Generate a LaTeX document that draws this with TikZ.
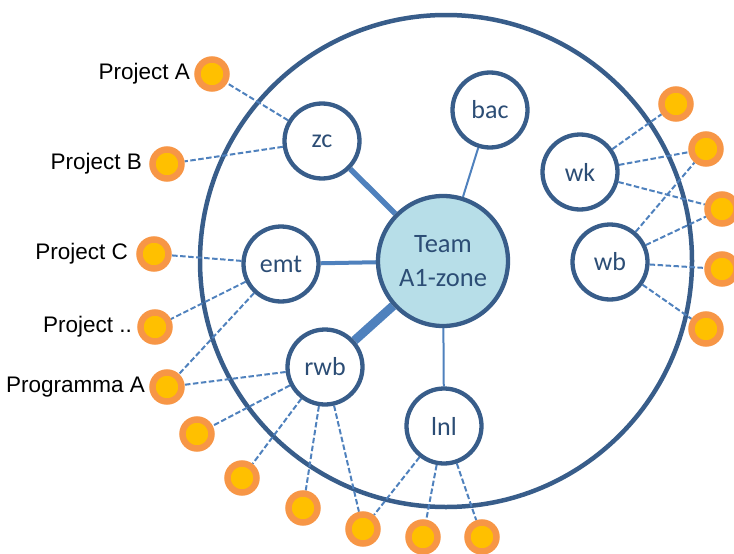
\documentclass[tikz,border=0pt]{standalone}
\usepackage{fontspec}
\setmainfont{Liberation Sans}
\newfontfamily\nodefont{Carlito}
\usetikzlibrary{backgrounds}
\definecolor{ringblue}{HTML}{385D8A}
\definecolor{linkblue}{HTML}{4F81BD}
\definecolor{teamfill}{HTML}{B7DEE8}
\definecolor{txtblue}{HTML}{2C4D75}
\definecolor{dotfill}{HTML}{FFC000}
\definecolor{dotring}{HTML}{F79646}
\begin{document}
\begin{tikzpicture}[x=1pt,y=-1pt,
  unit/.style={circle, draw=ringblue, line width=4.3pt, fill=white, minimum size=75pt,
    inner sep=0pt, font=\nodefont\fontsize{26}{30}\selectfont, text=txtblue},
  hub/.style={circle, draw=ringblue, line width=4.3pt, fill=teamfill, minimum size=130pt,
    inner sep=0pt, align=center, font=\nodefont\fontsize{26.5}{34}\selectfont, text=txtblue},
  proj/.style={circle, draw=dotring, line width=6.5pt, fill=dotfill, minimum size=29pt, inner sep=0pt},
  lbl/.style={anchor=east, inner sep=0pt, font=\fontsize{22.5}{26}\selectfont},
  link/.style={draw=linkblue, line width=#1},
  dashlink/.style={draw=linkblue, line width=2pt, dash pattern=on 5.5pt off 2.5pt}
]
\useasboundingbox (0,0) rectangle (734,554);

% zone members
\node[hub]  (team) at (443,261) {Team\\A1-zone};
\node[unit] (zc)   at (322,141) {zc};
\node[unit] (bac)  at (490,110) {bac};
\node[unit] (wk)   at (580,172) {wk};
\node[unit] (wb)   at (610,262) {wb};
\node[unit] (emt)  at (281,264) {emt};
\node[unit] (rwb)  at (325,367) {rwb};
\node[unit] (lnl)  at (444,426) {lnl};

% projects and programmes
\node[proj] (p1)  at (212,74)  {};
\node[proj] (p2)  at (167,164) {};
\node[proj] (p3)  at (154,254) {};
\node[proj] (p4)  at (155,327) {};
\node[proj] (p5)  at (167,387) {};
\node[proj] (p6)  at (197,434) {};
\node[proj] (p7)  at (242,478) {};
\node[proj] (p8)  at (303,508) {};
\node[proj] (p9)  at (363,529) {};
\node[proj] (p10) at (423,537) {};
\node[proj] (p11) at (482,537) {};
\node[proj] (p12) at (676,104) {};
\node[proj] (p13) at (706,149) {};
\node[proj] (p14) at (722,209) {};
\node[proj] (p15) at (722,269) {};
\node[proj] (p16) at (706,329) {};

\node[lbl] (l1) at (190,74)  {Project A};
\node[lbl] (l2) at (142,164) {Project B};
\node[lbl] (l3) at (128,254) {Project C};
\node[lbl] (l4) at (132,327) {Project ..};
\node[lbl] (l5) at (145,387) {Programma A};

\begin{pgfonlayer}{background}
  % zone boundary
  \node[circle, draw=ringblue, line width=4.5pt, minimum size=492pt, inner sep=0pt] (zone) at (446,261) {};
  % links to the team
  \draw[link=5.5pt] (team) -- (zc);
  \draw[link=4pt]   (team) -- (emt);
  \draw[link=9pt]   (team) -- (rwb);
  \draw[link=2pt]   (team) -- (bac);
  \draw[link=2pt]   (team) -- (lnl);
  % links to projects
  \draw[dashlink] (zc) -- (p1);
  \draw[dashlink] (zc) -- (p2);
  \draw[dashlink] (emt) -- (p3);
  \draw[dashlink] (emt) -- (p4);
  \draw[dashlink] (emt) -- (p5);
  \draw[dashlink] (rwb) -- (p5);
  \draw[dashlink] (rwb) -- (p6);
  \draw[dashlink] (rwb) -- (p7);
  \draw[dashlink] (rwb) -- (p8);
  \draw[dashlink] (rwb) -- (p9);
  \draw[dashlink] (lnl) -- (p9);
  \draw[dashlink] (lnl) -- (p10);
  \draw[dashlink] (lnl) -- (p11);
  \draw[dashlink] (wk) -- (p12);
  \draw[dashlink] (wk) -- (p13);
  \draw[dashlink] (wk) -- (p14);
  \draw[dashlink] (wb) -- (p13);
  \draw[dashlink] (wb) -- (p14);
  \draw[dashlink] (wb) -- (p15);
  \draw[dashlink] (wb) -- (p16);
\end{pgfonlayer}
\end{tikzpicture}
\end{document}
